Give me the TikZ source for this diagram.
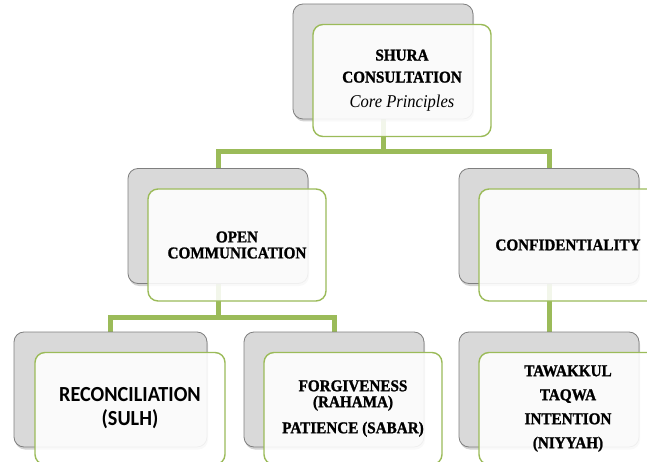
\documentclass[tikz,border=0pt]{standalone}
\usepackage{fontspec}
\setmainfont[FakeStretch=0.92,BoldFeatures={FakeBold=1.3}]{Liberation Serif}
\newfontfamily\carlito[FakeStretch=0.94]{Carlito}
\usetikzlibrary{backgrounds,shadows}

\definecolor{leafgreen}{HTML}{9BBB59}
\definecolor{boxgrey}{HTML}{D9D9D9}
\definecolor{edgegrey}{HTML}{7F7F7F}

\begin{document}
\begin{tikzpicture}[x=1pt,y=-1pt,
  backbox/.style={draw=edgegrey,fill=boxgrey,line width=0.8pt,rounded corners=10pt,
    minimum width=180pt,minimum height=115pt,
    drop shadow={shadow xshift=1pt,shadow yshift=-2.5pt,opacity=0.35}},
  frontbox/.style={draw=leafgreen,line width=1.4pt,fill=white,fill opacity=0.88,text opacity=1,
    rounded corners=10pt,minimum width=178pt,minimum height=112pt,align=center,
    font=\fontsize{16.5}{16}\selectfont\bfseries},
  link/.style={draw=leafgreen,line width=5pt}]

\useasboundingbox (0,0) rectangle (647,462);

% back (grey) boxes
\node[backbox] (topb) at (383,61.5) {};
\node[backbox] (midLb) at (218,226) {};
\node[backbox] (midRb) at (549,226) {};
\node[backbox,minimum width=193pt] (botLb) at (110.5,389.5) {};
\node[backbox] (botMb) at (334,389.5) {};
\node[backbox] (botRb) at (549,389.5) {};

% front (green) boxes with the texts
\node[frontbox] (top) at ([xshift=19pt,yshift=-19pt]topb.center)
  {SHURA\\[6pt]CONSULTATION\\[9pt]{\mdseries\itshape\fontsize{18}{17}\selectfont Core Principles}};
\node[frontbox] (midL) at ([xshift=19pt,yshift=-19pt]midLb.center) {OPEN\\COMMUNICATION};
\node[frontbox] (midR) at ([xshift=19pt,yshift=-19pt]midRb.center) {CONFIDENTIALITY};
\node[frontbox,minimum width=190pt,font=\carlito\fontsize{21.5}{24}\selectfont\bfseries] (botL)
  at ([xshift=19.5pt,yshift=-19pt]botLb.center) {RECONCILIATION\\(SULH)};
\node[frontbox] (botM) at ([xshift=19pt,yshift=-19pt]botMb.center)
  {FORGIVENESS\\(RAHAMA)\\[10pt]PATIENCE (SABAR)};
\node[frontbox] (botR) at ([xshift=19pt,yshift=-19pt]botRb.center)
  {TAWAKKUL\\[8pt]TAQWA\\[8pt]INTENTION\\[8pt](NIYYAH)};

% connectors, behind the boxes
\begin{scope}[on background layer]
\draw[link] (topb) -- ++(0,90.5) -| (midLb);
\draw[link] (topb) -- ++(0,90.5) -| (midRb);
\draw[link] (midLb) -- ++(0,91) -| (botLb);
\draw[link] (midLb) -- ++(0,91) -| (botMb);
\draw[link] (midRb) -- (botRb);
\end{scope}

\end{tikzpicture}
\end{document}
